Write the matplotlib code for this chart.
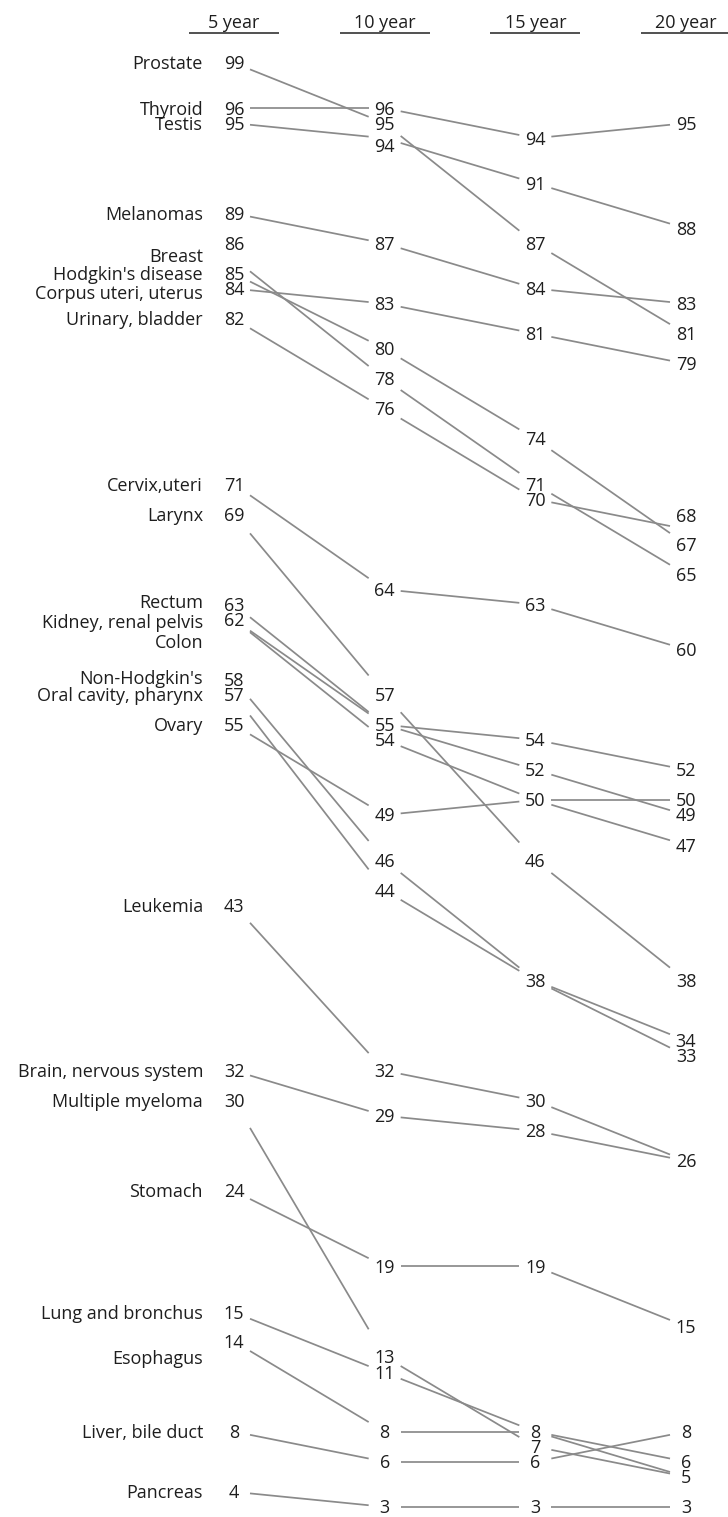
import matplotlib
matplotlib.use("Agg")
import matplotlib.pyplot as plt
import numpy as np

# ---------------- data ----------------
cancers = ["Prostate", "Thyroid", "Testis", "Melanomas", "Breast",
           "Hodgkin's disease", "Corpus uteri, uterus", "Urinary, bladder",
           "Cervix,uteri", "Larynx", "Rectum", "Kidney, renal pelvis", "Colon",
           "Non-Hodgkin's", "Oral cavity, pharynx", "Ovary", "Leukemia",
           "Brain, nervous system", "Multiple myeloma", "Stomach",
           "Lung and bronchus", "Esophagus", "Liver, bile duct", "Pancreas"]
year5 = [99, 96, 95, 89, 86, 85, 84, 82, 71, 69, 63, 62, 62, 58, 57, 55, 43, 32, 30, 24, 15, 14, 8, 4]
year10 = [95, 96, 94, 87, 78, 80, 83, 76, 64, 57, 55, 54, 55, 46, 44, 49, 32, 29, 13, 19, 11, 8, 6, 3]
year15 = [87, 94, 91, 84, 71, 74, 81, 70, 63, 46, 52, 50, 54, 38, 38, 50, 30, 28, 7, 19, 8, 8, 6, 3]
year20 = [81, 95, 88, 83, 65, 67, 79, 68, 60, 38, 49, 47, 52, 34, 33, 50, 26, 26, 5, 15, 6, 5, 8, 3]
columns = ["5 year", "10 year", "15 year", "20 year"]

# ---------------- layout (pixels) ----------------
W, H = 728, 1517
PX_PER_UNIT = 15.04
Y_TOP_VAL, Y_TOP_PX = 99, 63
COL0_PX, COL_STEP_PX = 234, 150.67
GAP_PX = 16           # gap between line ends and number centres
NAME_RIGHT_PX = 203

# manual label nudges (pixels, + = down) to avoid overlaps
name_nudge = {"Breast": -3, "Corpus uteri, uterus": 4, "Colon": 22,
              "Esophagus": 16, "Lung and bronchus": -14, "Rectum": -3,
              "Kidney, renal pelvis": 2, "Non-Hodgkin's": -2}
# (column, cancer): (pixel nudge, whether the slope line follows the label)
number_nudge = {(0, "Breast"): (-15, False),
                (0, "Lung and bronchus"): (-14, True),
                (1, "Testis"): (7, False),
                (1, "Lung and bronchus"): (-14, True),
                (3, "Urinary, bladder"): (-14, False)}

plt.rcParams['font.family'] = ['Open Sans', 'DejaVu Sans']
FS = 13
CAP_PX = 0.714 * FS / 0.72   # cap/digit height in pixels
BASE_OFF = CAP_PX / 2
TXT = "#1e1e1e"
LINE = "#8a8a8a"

fig = plt.figure(figsize=(W / 100, H / 100), dpi=100)
ax = fig.add_axes([0, 0, 1, 1])
ax.set_axis_off()
x_lo = -COL0_PX / COL_STEP_PX
x_hi = (W - COL0_PX) / COL_STEP_PX
y_hi = Y_TOP_VAL + Y_TOP_PX / PX_PER_UNIT
y_lo = Y_TOP_VAL - (H - Y_TOP_PX) / PX_PER_UNIT
ax.set_xlim(x_lo, x_hi)
ax.set_ylim(y_lo, y_hi)

series = np.array([year5, year10, year15, year20], dtype=float)  # (4, n)
n = len(cancers)
gap = GAP_PX / COL_STEP_PX
xs = np.arange(len(columns))


def line_y(c, i):
    v = series[c, i]
    dy, follow = number_nudge.get((c, cancers[i]), (0, False))
    if follow:
        v = v - dy / PX_PER_UNIT
    return v


# slope lines (trimmed near the numbers)
for i in range(n):
    for c in range(len(columns) - 1):
        y0, y1 = line_y(c, i), line_y(c + 1, i)
        xa, xb = xs[c] + gap, xs[c + 1] - gap
        ya = y0 + (y1 - y0) * gap
        yb = y1 - (y1 - y0) * gap
        ax.plot([xa, xb], [ya, yb], color=LINE, lw=1.25,
                solid_capstyle='butt', zorder=1)

# numbers (each value shown once per column)
for c in range(len(columns)):
    seen = set()
    for i in range(n):
        v = series[c, i]
        if v in seen:
            continue
        seen.add(v)
        dy, _ = number_nudge.get((c, cancers[i]), (0, False))
        ax.annotate(f"{int(v)}", xy=(xs[c], v),
                    xytext=(0, -(dy + BASE_OFF) * 0.72),
                    textcoords='offset points', ha='center', va='baseline',
                    fontsize=FS, color=TXT, zorder=3)

# category names on the left
name_x = (NAME_RIGHT_PX - COL0_PX) / COL_STEP_PX
for i in range(n):
    dy = name_nudge.get(cancers[i], 0)
    ax.annotate(cancers[i], xy=(name_x, series[0, i]),
                xytext=(0, -(dy + BASE_OFF) * 0.72),
                textcoords='offset points', ha='right', va='baseline',
                fontsize=FS, color=TXT, zorder=3)

# column headers with underline
head_y = Y_TOP_VAL + (Y_TOP_PX - 22) / PX_PER_UNIT
rule_y = Y_TOP_VAL + (Y_TOP_PX - 33) / PX_PER_UNIT
half = 45 / COL_STEP_PX
for c, lab in enumerate(columns):
    ax.annotate(lab, xy=(xs[c], head_y), xytext=(0, -BASE_OFF * 0.72),
                textcoords='offset points', ha='center', va='baseline',
                fontsize=FS, color=TXT)
    ax.plot([xs[c] - half, xs[c] + half], [rule_y, rule_y], color="#222222",
            lw=1.1, solid_capstyle='butt')

fig.savefig("out.png", dpi=100)
